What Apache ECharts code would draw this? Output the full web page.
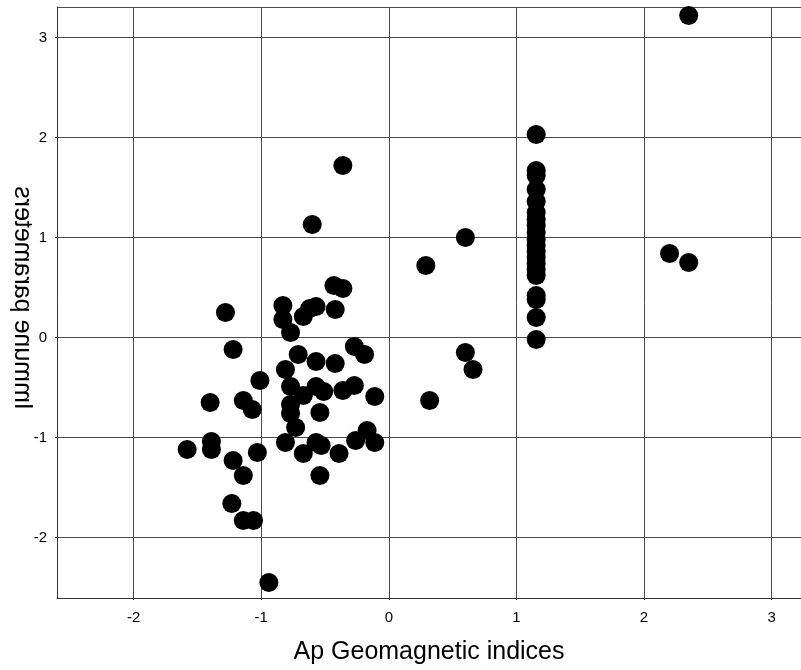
<!DOCTYPE html>
<html>
<head>
<meta charset="utf-8">
<script src="https://cdn.jsdelivr.net/npm/echarts@6/dist/echarts.min.js"></script>
<style>
html,body{margin:0;padding:0;background:#fff;}
#chart{width:801px;height:670px;}
</style>
</head>
<body>
<div id="chart"></div>
<script>
// Ap geomagnetic indices (x) vs immune parameters (y)
var apIndex = [
  -1.28, -0.83, -0.83, -0.77, -0.67, -0.62, -0.57, -0.42, -0.43, -0.36,
  -0.36, -0.60, -1.22, -0.71, -0.57, -0.42, -0.27, -0.19, -0.81, -1.01,
  -0.77, -0.67, -0.57, -0.51, -0.36, -0.27, -0.11, -1.40, -1.14, -1.07,
  -0.77, -0.77, -0.54, -0.73, -0.17, -1.39, -1.39, -1.58, -1.22, -1.03,
  -0.81, -0.67, -0.57, -0.53, -0.39, -0.26, -0.11, -1.14, -0.54, -1.23,
  -1.14, -1.06, -0.94,
  0.29, 0.60, 0.60, 0.66, 0.32,
  1.155, 1.155, 1.155, 1.155, 1.155, 1.155, 1.155, 1.155, 1.155, 1.155,
  1.155, 1.155, 1.155, 1.155, 1.155, 1.155, 1.155, 1.155, 1.155, 1.155,
  2.20, 2.35, 2.35
];
var immuneParam = [
  0.25, 0.32, 0.18, 0.05, 0.21, 0.29, 0.31, 0.28, 0.52, 0.49,
  1.72, 1.13, -0.12, -0.17, -0.24, -0.26, -0.09, -0.17, -0.32, -0.43,
  -0.49, -0.58, -0.49, -0.54, -0.53, -0.48, -0.59, -0.65, -0.63, -0.72,
  -0.67, -0.76, -0.75, -0.90, -0.93, -1.04, -1.12, -1.12, -1.23, -1.15,
  -1.05, -1.16, -1.05, -1.08, -1.16, -1.03, -1.05, -1.38, -1.38, -1.66,
  -1.83, -1.83, -2.45,
  0.72, 1.00, -0.15, -0.32, -0.63,
  2.03, 1.67, 1.62, 1.48, 1.36, 1.25, 1.18, 1.12, 1.05, 0.98,
  0.92, 0.86, 0.80, 0.74, 0.68, 0.62, 0.42, 0.38, 0.20, -0.02,
  0.84, 0.75, 3.22
];
var xRange = [-2.6, 3.23];
var yRange = [-2.605, 3.305];
var xTitle = 'Ap Geomagnetic indices';
var yTitle = 'Immune parameters';

var points = apIndex.map(function (x, i) { return [x, immuneParam[i]]; });

var chart = echarts.init(document.getElementById('chart'), null, {renderer: 'canvas'});
var font = 'Liberation Sans, Arial, sans-serif';
var gridColor = '#4a4a4a';
chart.setOption({
  animation: false,
  backgroundColor: '#ffffff',
  grid: {left: 57, top: 7, right: 0, bottom: 72, containLabel: false},
  xAxis: {
    type: 'value', min: xRange[0], max: xRange[1],
    name: xTitle, nameLocation: 'middle', nameGap: 42,
    nameTextStyle: {fontFamily: font, fontSize: 25, color: '#000'},
    axisLine: {show: true, onZero: false, lineStyle: {color: '#333', width: 1}},
    axisTick: {show: true, length: 2, lineStyle: {color: '#333'}},
    axisLabel: {fontFamily: font, fontSize: 15, color: '#000', margin: 12, showMinLabel: false, showMaxLabel: false},
    splitLine: {show: true, lineStyle: {color: gridColor, width: 1}}
  },
  yAxis: {
    type: 'value', min: yRange[0], max: yRange[1],
    axisLine: {show: true, onZero: false, lineStyle: {color: '#333', width: 1}},
    axisTick: {show: true, length: 2, lineStyle: {color: '#333'}},
    axisLabel: {fontFamily: font, fontSize: 15, color: '#000', margin: 10, showMinLabel: false, showMaxLabel: false},
    splitLine: {show: true, lineStyle: {color: gridColor, width: 1}}
  },
  graphic: [{
    type: 'text',
    x: 22, y: 298,
    rotation: -Math.PI / 2,
    scaleX: -1,
    style: {text: yTitle, fontFamily: font, fontSize: 25, fill: '#000', align: 'center', verticalAlign: 'middle'}
  }],
  series: [{
    type: 'scatter',
    data: points,
    symbol: 'circle',
    symbolSize: 19,
    itemStyle: {color: '#000', opacity: 1},
    clip: false
  }]
});
</script>
</body>
</html>
